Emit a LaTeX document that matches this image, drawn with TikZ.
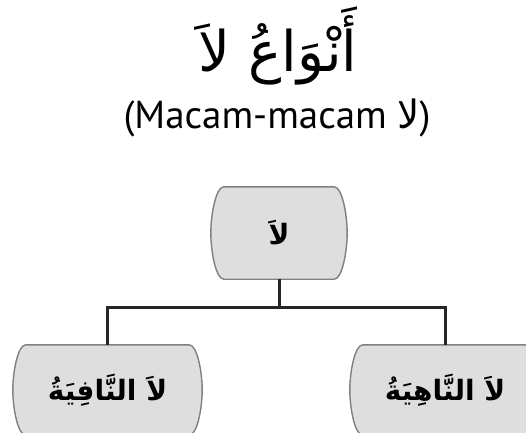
\documentclass[tikz,border=0pt]{standalone}
\usepackage{fontspec}
\setmainfont{PT Sans}
\newfontfamily\arabicfont[Script=Arabic]{DejaVu Sans}
\TeXXeTstate=1
\usetikzlibrary{calc}
\pgfdeclarelayer{background}
\pgfsetlayers{background,main}

\tikzset{
  boxtext/.style={inner sep=0pt, minimum width=#1, minimum height=90pt,
    font=\arabicfont\bfseries\fontsize{28}{34}\selectfont},
  boxfill/.style={fill=black!13, draw=black!50, line width=1.4pt},
  conn/.style={line width=3pt, draw=black!85},
  heading/.style={inner sep=0pt}
}

% barrel-shaped box behind a named node: flat top and bottom, bulging sides
\newcommand\barrelbox[1]{%
  \begin{pgfonlayer}{background}
  \filldraw[boxfill]
    ($(#1.north west)+(13,0)$) -- ($(#1.north east)+(-13,0)$)
    .. controls ($(#1.north east)+(-5,0)$) and ($(#1.east)+(0,-18)$) .. (#1.east)
    .. controls ($(#1.east)+(0,18)$) and ($(#1.south east)+(-5,0)$) .. ($(#1.south east)+(-13,0)$)
    -- ($(#1.south west)+(13,0)$)
    .. controls ($(#1.south west)+(5,0)$) and ($(#1.west)+(0,18)$) .. (#1.west)
    .. controls ($(#1.west)+(0,-18)$) and ($(#1.north west)+(5,0)$) .. cycle;
  \end{pgfonlayer}}

\begin{document}
\begin{tikzpicture}[x=1pt, y=-1pt]
  \useasboundingbox (0,0) rectangle (526,432);
  \clip (0,0) rectangle (526,432);

  % headings
  \node[heading, font=\arabicfont\fontsize{56}{66}\selectfont] (title) at (278,46)
    {\beginR أَنْوَاعُ لاَ\endR};
  \node[heading, font=\fontsize{39}{46}\selectfont] (sub) at (277,118)
    {(Macam-macam {\arabicfont\beginR لا\endR})};

  % tree nodes
  \node[boxtext=136pt, minimum height=92pt] (root) at (279,233) {\beginR لاَ\endR};
  \node[boxtext=189pt] (nafi) at (107.5,390) {\beginR لاَ النَّافِيَةُ\endR};
  \node[boxtext=190pt] (nahi) at (445,390) {\beginR لاَ النَّاهِيَةُ\endR};

  \barrelbox{root}
  \barrelbox{nafi}
  \barrelbox{nahi}

  % connectors
  \coordinate (fork) at ($(root.south)+(0,28)$);
  \draw[conn] (root.south) -- (fork);
  \draw[conn] (fork) -| (nafi.north);
  \draw[conn] (fork) -| (nahi.north);
\end{tikzpicture}
\end{document}
